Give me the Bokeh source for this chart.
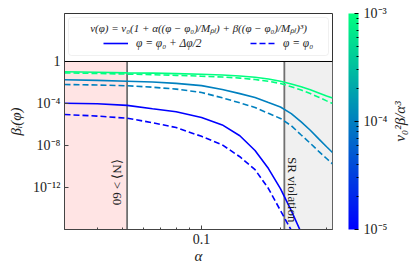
import math
from bokeh.plotting import figure
from bokeh.models import (ColorBar, LogColorMapper, FixedTicker, CustomJSTickFormatter,
                          Span, Label, BoxAnnotation, Legend, LegendItem)
from bokeh.embed import file_html
from bokeh.resources import INLINE

# ---------------- data ----------------
alpha = [0.030, 0.040, 0.052, 0.065, 0.080, 0.100, 0.120, 0.140, 0.160,
         0.180, 0.200, 0.220, 0.240, 0.260, 0.280, 0.300, 0.316]

# colour parameter v0^2 beta / alpha^3 of each pair of curves
param_values = [1e-5, 1e-4, 1e-3]

nan = float("nan")
# log10(beta_I) ; solid: phi = phi0 + dphi/2 ; dashed: phi = phi0
log_beta_solid_1e5 = [-3.97, -4.03, -4.18, -4.50, -4.78, -5.33, -6.04, -7.07, -8.48,
                      -10.2, -12.1, -14.2, -16.3, nan, nan, nan, nan]
log_beta_dash_1e5 = [-5.05, -5.20, -5.40, -5.83, -6.29, -7.13, -7.94, -9.07, -10.3,
                     -12.1, -14.19, -16.07, nan, nan, nan, nan, nan]
log_beta_solid_1e4 = [-1.74, -1.80, -1.88, -1.96, -2.08, -2.30, -2.66, -3.06, -3.43,
                      -3.91, -4.33, -4.96, -5.75, -6.55, -7.37, -8.12, -8.67]
log_beta_dash_1e4 = [-2.19, -2.24, -2.31, -2.45, -2.63, -2.95, -3.46, -3.94, -4.38,
                     -4.94, -5.42, -6.12, -7.00, -7.79, -8.56, -9.24, -9.75]
log_beta_solid_1e3 = [-0.98, -1.03, -1.08, -1.11, -1.16, -1.22, -1.29, -1.38, -1.50,
                      -1.66, -1.89, -2.14, -2.40, -2.69, -3.00, -3.29, -3.48]
log_beta_dash_1e3 = [-1.08, -1.14, -1.20, -1.26, -1.32, -1.40, -1.48, -1.58, -1.72,
                     -1.88, -2.10, -2.40, -2.72, -3.05, -3.40, -3.75, -4.00]

solid_curves = [log_beta_solid_1e5, log_beta_solid_1e4, log_beta_solid_1e3]
dashed_curves = [log_beta_dash_1e5, log_beta_dash_1e4, log_beta_dash_1e3]

alpha_min, alpha_max = 0.030, 0.316
alpha_efolds = 0.052      # <N> > 60 region boundary
alpha_sr = 0.207          # slow-roll violation boundary
beta_min, beta_max = 1e-16, 10 ** 4.57

x_major = [0.1]
x_minor = [0.04, 0.05, 0.06, 0.07, 0.08, 0.09, 0.2, 0.3]
y_major = [1e-12, 1e-8, 1e-4, 1]
cb_major = [1e-5, 1e-4, 1e-3]
cb_minor = [2e-5, 3e-5, 4e-5, 5e-5, 6e-5, 7e-5, 8e-5, 9e-5,
            2e-4, 3e-4, 4e-4, 5e-4, 6e-4, 7e-4, 8e-4, 9e-4]

# matplotlib "winter" colormap
winter = ["#%02x%02x%02x" % (0, i, int(round(255 - i / 2))) for i in range(256)]
mapper = LogColorMapper(palette=winter, low=1e-5, high=1e-3)


def winter_color(v):
    t = (math.log10(v) - math.log10(mapper.low)) / (math.log10(mapper.high) - math.log10(mapper.low))
    return winter[int(round(t * 255))]


SERIF = "Liberation Serif"
TXT = "#222222"

p = figure(width=413, height=272, x_axis_type="log", y_axis_type="log",
           x_range=(alpha_min, alpha_max), y_range=(beta_min, beta_max),
           output_backend="svg", toolbar_location=None,
           min_border_left=64, min_border_right=81, min_border_top=13, min_border_bottom=43)
p.xgrid.visible = False
p.ygrid.visible = False
p.outline_line_color = "#333333"

# shaded regions
p.quad(left=[alpha_min], right=[alpha_efolds], bottom=[beta_min], top=[1],
       fill_color="#ffe4e4", line_color=None)
p.quad(left=[alpha_sr], right=[alpha_max], bottom=[beta_min], top=[1],
       fill_color="#f0f0f0", line_color=None)
p.segment(x0=[alpha_efolds, alpha_sr], y0=[beta_min, beta_min],
          x1=[alpha_efolds, alpha_sr], y1=[1, 1], line_color="#707070", line_width=1.8)
p.add_layout(Span(location=1, dimension="width", line_color="black", line_width=1))

renderers_solid = []
renderers_dash = []
for v, ys, yd in zip(param_values, solid_curves, dashed_curves):
    c = winter_color(v)
    rs = p.line(alpha, [10 ** y for y in ys], line_color=c, line_width=1.6)
    rd = p.line(alpha, [10 ** y for y in yd], line_color=c, line_width=1.6, line_dash="6 3")
    renderers_solid.append(rs)
    renderers_dash.append(rd)

# axes
sup_code = """
const sup = {"-": "⁻", "0": "⁰", "1": "¹", "2": "²", "3": "³", "4": "⁴",
             "5": "⁵", "6": "⁶", "7": "⁷", "8": "⁸", "9": "⁹"};
const e = Math.round(Math.log10(tick));
if (e === 0) { return "1"; }
return "10" + String(e).split("").map(c => sup[c]).join("");
"""
p.xaxis.ticker = FixedTicker(ticks=x_major, minor_ticks=x_minor)
p.xaxis.formatter = CustomJSTickFormatter(code="return tick.toString();")
p.yaxis.ticker = FixedTicker(ticks=y_major, minor_ticks=[])
p.yaxis.formatter = CustomJSTickFormatter(code=sup_code)
for ax in (p.xaxis, p.yaxis):
    ax.major_tick_in = 4
    ax.major_tick_out = 0
    ax.minor_tick_in = 2
    ax.minor_tick_out = 0
    ax.axis_line_color = "#444444"
    ax.major_tick_line_color = "#444444"
    ax.minor_tick_line_color = "#444444"
    ax.major_label_text_font = SERIF
    ax.major_label_text_font_size = "14px"
    ax.major_label_text_color = TXT
    ax.major_label_standoff = 4
    ax.axis_label_text_font = SERIF
    ax.axis_label_text_font_style = "italic"
    ax.axis_label_text_font_size = "15px"
    ax.axis_label_text_color = TXT
p.xaxis.axis_label = "α"
p.xaxis.axis_label_standoff = 1
p.yaxis.axis_label = "βᵢ(φ)"
p.yaxis.axis_label_standoff = 6

# region texts
p.add_layout(Label(x=0.0478, y=10 ** -9.3, text="⟨N⟩ > 60", angle=-math.pi / 2,
                   text_font=SERIF, text_font_size="13px", text_align="left",
                   text_baseline="middle", text_color=TXT))
p.add_layout(Label(x=0.222, y=10 ** -9.1, text="SR violation", angle=-math.pi / 2,
                   text_font=SERIF, text_font_size="13px", text_align="left",
                   text_baseline="middle", text_color=TXT))

# legend box + formula + items
p.add_layout(BoxAnnotation(left=4, right=264, top=212, bottom=174,
                           left_units="screen", right_units="screen",
                           top_units="screen", bottom_units="screen",
                           fill_color="white", fill_alpha=1, line_color="#cccccc",
                           line_width=1, border_radius=3))
p.add_layout(Label(x=134, y=202, x_units="screen", y_units="screen",
                   text="v(φ) = v₀(1 + α((φ − φ₀)/Mₚₗ) + β((φ − φ₀)/Mₚₗ)³)",
                   text_font=SERIF, text_font_style="italic", text_font_size="11px",
                   text_align="center", text_baseline="middle", text_color=TXT))
for loc, lab, r in [((39, 179), "φ = φ₀ + Δφ/2", renderers_solid[0]),
                    ((186, 179), "φ = φ₀", renderers_dash[0])]:
    leg = Legend(items=[LegendItem(label=lab, renderers=[r])], location=loc,
                 background_fill_alpha=0, border_line_color=None, padding=0, margin=0,
                 glyph_width=25, glyph_height=14, label_height=14, label_standoff=8,
                 label_text_font=SERIF, label_text_font_style="italic",
                 label_text_font_size="11.5px", label_text_color=TXT)
    p.add_layout(leg)

# colour bar
cb = ColorBar(color_mapper=mapper, location=(284, 0), width=10, height=216,
              padding=0, margin=0,
              ticker=FixedTicker(ticks=cb_major, minor_ticks=cb_minor),
              formatter=CustomJSTickFormatter(code=sup_code),
              major_tick_line_color="black", major_tick_in=4, major_tick_out=0,
              minor_tick_line_color="black", minor_tick_in=2, minor_tick_out=0,
              major_label_text_font=SERIF, major_label_text_font_size="14px",
              major_label_text_color=TXT, label_standoff=5, bar_line_color=None,
              background_fill_alpha=0)
p.add_layout(cb)

# colour-bar label, in the right side panel, reading bottom-to-top
p.add_layout(Label(x=67, y=108, x_units="screen", y_units="screen", text="v₀²β/α³",
                   angle=math.pi / 2, text_font=SERIF, text_font_style="italic",
                   text_font_size="15px", text_align="center", text_baseline="middle",
                   text_color=TXT), "right")

open("out.html", "w").write(file_html(p, INLINE))
